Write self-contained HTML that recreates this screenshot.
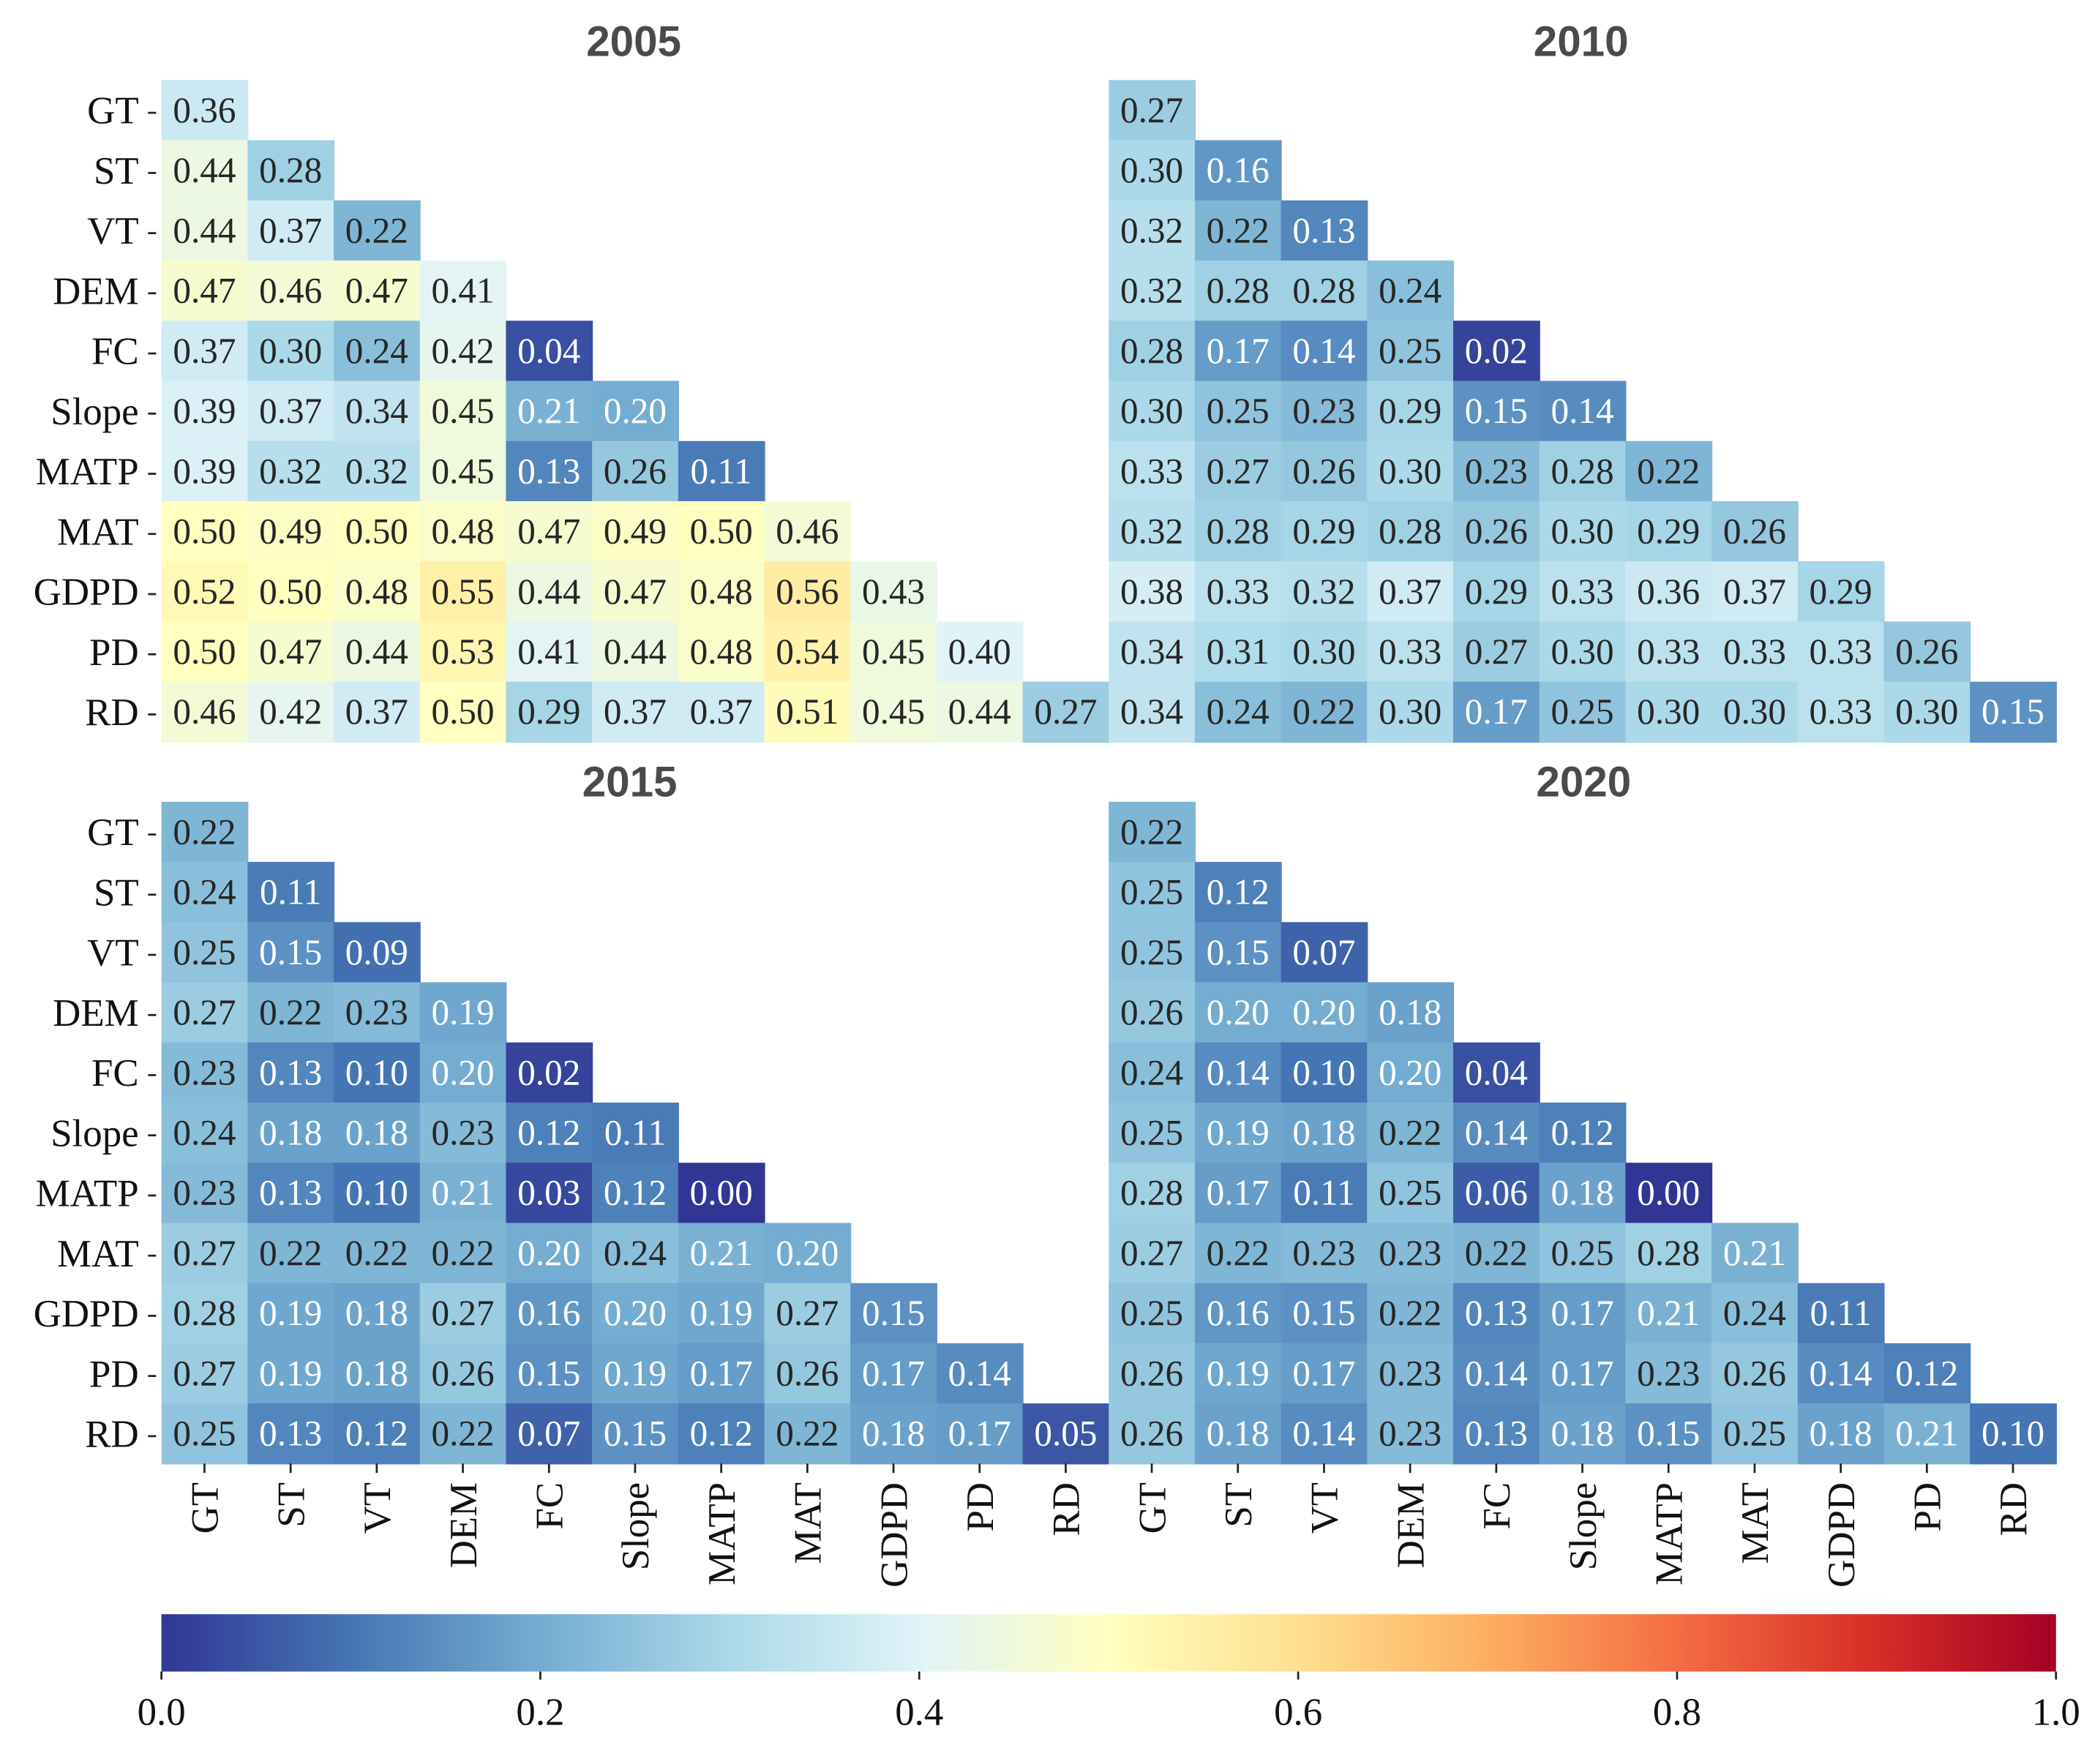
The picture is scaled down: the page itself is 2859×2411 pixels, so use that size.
<!DOCTYPE html>
<html><head><meta charset="utf-8"><style>
html,body{margin:0;padding:0;background:#fff;}
svg{display:block;}
</style></head><body>
<svg id="chart" xmlns="http://www.w3.org/2000/svg" width="2859" height="2411" viewBox="0 0 1568 1322.3" preserveAspectRatio="none">
<defs>
<linearGradient id="cbar" x1="0" x2="1" y1="0" y2="0">
<stop offset="0" stop-color="#313695"/><stop offset="0.1" stop-color="#4575b4"/><stop offset="0.2" stop-color="#74add1"/><stop offset="0.3" stop-color="#abd9e9"/><stop offset="0.4" stop-color="#e0f3f8"/><stop offset="0.5" stop-color="#ffffbf"/><stop offset="0.6" stop-color="#fee090"/><stop offset="0.7" stop-color="#fdae61"/><stop offset="0.8" stop-color="#f46d43"/><stop offset="0.9" stop-color="#d73027"/><stop offset="1" stop-color="#a50026"/>
</linearGradient>
</defs>
<g id="root"></g>
</svg>
<script>
const labels = ["GT","ST","VT","DEM","FC","Slope","MATP","MAT","GDPD","PD","RD"];
const years = ["2005","2010","2015","2020"];
const colorbarTicks = [0.0,0.2,0.4,0.6,0.8,1.0];
const data2005 = [
[.36],[.44,.28],[.44,.37,.22],[.47,.46,.47,.41],[.37,.30,.24,.42,.04],
[.39,.37,.34,.45,.21,.20],[.39,.32,.32,.45,.13,.26,.11],
[.50,.49,.50,.48,.47,.49,.50,.46],[.52,.50,.48,.55,.44,.47,.48,.56,.43],
[.50,.47,.44,.53,.41,.44,.48,.54,.45,.40],[.46,.42,.37,.50,.29,.37,.37,.51,.45,.44,.27]];
const data2010 = [
[.27],[.30,.16],[.32,.22,.13],[.32,.28,.28,.24],[.28,.17,.14,.25,.02],
[.30,.25,.23,.29,.15,.14],[.33,.27,.26,.30,.23,.28,.22],
[.32,.28,.29,.28,.26,.30,.29,.26],[.38,.33,.32,.37,.29,.33,.36,.37,.29],
[.34,.31,.30,.33,.27,.30,.33,.33,.33,.26],[.34,.24,.22,.30,.17,.25,.30,.30,.33,.30,.15]];
const data2015 = [
[.22],[.24,.11],[.25,.15,.09],[.27,.22,.23,.19],[.23,.13,.10,.20,.02],
[.24,.18,.18,.23,.12,.11],[.23,.13,.10,.21,.03,.12,.00],
[.27,.22,.22,.22,.20,.24,.21,.20],[.28,.19,.18,.27,.16,.20,.19,.27,.15],
[.27,.19,.18,.26,.15,.19,.17,.26,.17,.14],[.25,.13,.12,.22,.07,.15,.12,.22,.18,.17,.05]];
const data2020 = [
[.22],[.25,.12],[.25,.15,.07],[.26,.20,.20,.18],[.24,.14,.10,.20,.04],
[.25,.19,.18,.22,.14,.12],[.28,.17,.11,.25,.06,.18,.00],
[.27,.22,.23,.23,.22,.25,.28,.21],[.25,.16,.15,.22,.13,.17,.21,.24,.11],
[.26,.19,.17,.23,.14,.17,.23,.26,.14,.12],[.26,.18,.14,.23,.13,.18,.15,.25,.18,.21,.10]];

const NS="http://www.w3.org/2000/svg";
const root=document.getElementById('root');
const stops=["#313695","#4575b4","#74add1","#abd9e9","#e0f3f8","#ffffbf","#fee090","#fdae61","#f46d43","#d73027","#a50026"].map(h=>[parseInt(h.substr(1,2),16),parseInt(h.substr(3,2),16),parseInt(h.substr(5,2),16)]);
function cmap(v){v=Math.max(0,Math.min(1,v));const p=v*10;const i=Math.min(9,Math.floor(p));const f=p-i;const a=stops[i],b=stops[i+1];return [0,1,2].map(k=>Math.round(a[k]+(b[k]-a[k])*f));}
function el(tag,attrs,parent){const e=document.createElementNS(NS,tag);for(const k in attrs)e.setAttribute(k,attrs[k]);(parent||root).appendChild(e);return e;}
const cw=64.55, ch=45.1;
const panels=[{d:data2005,x0:121,y0:60,t:"2005",tx:475,ty:30,yl:true,xl:false},
{d:data2010,x0:831,y0:60,t:"2010",tx:1185,ty:30,yl:false,xl:false},
{d:data2015,x0:121,y0:601,t:"2015",tx:472,ty:585,yl:true,xl:true},
{d:data2020,x0:831,y0:601,t:"2020",tx:1187,ty:585,yl:false,xl:true}];
const serif='"Liberation Serif", serif';
panels.forEach((p,pi)=>{
  const g=el('g',{});
  
  
  const t=el('text',{x:p.tx,y:p.ty+12,'text-anchor':'middle','font-family':'"Liberation Sans", sans-serif','font-weight':'bold','font-size':32,fill:'#4a4a4a'},g);
  t.textContent=p.t;
  
  
  p.d.forEach((row,r)=>{
    row.forEach((v,c)=>{
      const x=p.x0+c*cw,y=p.y0+r*ch;const col=cmap(v);
      const rc=el('rect',{x:x,y:y,width:cw+0.6,height:ch+0.6,fill:`rgb(${col})`},g);
      
      
      const tx=el('text',{x:x+cw/2,y:y+ch/2+9,'text-anchor':'middle','font-family':serif,'font-size':27,fill:v<0.215?'#fff':'#262626'},g);
      tx.textContent=v.toFixed(2);
      
      
    });
  });
  if(p.yl){labels.forEach((l,r)=>{
    const y=p.y0+r*ch+ch/2;
    const tt=el('text',{x:104,y:y+10,'text-anchor':'end','font-family':serif,'font-size':29,fill:'#111'},g);
    tt.textContent=l;
    
    
    el('line',{x1:111,x2:117,y1:y+2,y2:y+2,stroke:'#222','stroke-width':1.5},g);
  });}
  if(p.xl){labels.forEach((l,c)=>{
    const x=p.x0+c*cw+cw/2;
    el('line',{x1:x,x2:x,y1:p.y0+11*ch,y2:p.y0+11*ch+7,stroke:'#222','stroke-width':1.5},g);
    const tt=el('text',{x:0,y:0,'text-anchor':'end','font-family':serif,'font-size':29,fill:'#111',transform:`translate(${x+10},${p.y0+11*ch+14}) rotate(-90)`},g);
    tt.textContent=l;
    
    
  });}
});
const cx0=121,cx1=1541,cy=1210,chh=43;
const cb=el('rect',{x:cx0,y:cy,width:cx1-cx0,height:chh,fill:'url(#cbar)'});


colorbarTicks.forEach(v=>{
  const x=cx0+v*(cx1-cx0);
  el('line',{x1:x,x2:x,y1:cy+chh,y2:cy+chh+6,stroke:'#222','stroke-width':1.5});
  const t=el('text',{x:x,y:1293,'text-anchor':'middle','font-family':serif,'font-size':29,fill:'#111'});
  t.textContent=v.toFixed(1);
  
  
});
</script>
</body></html>
